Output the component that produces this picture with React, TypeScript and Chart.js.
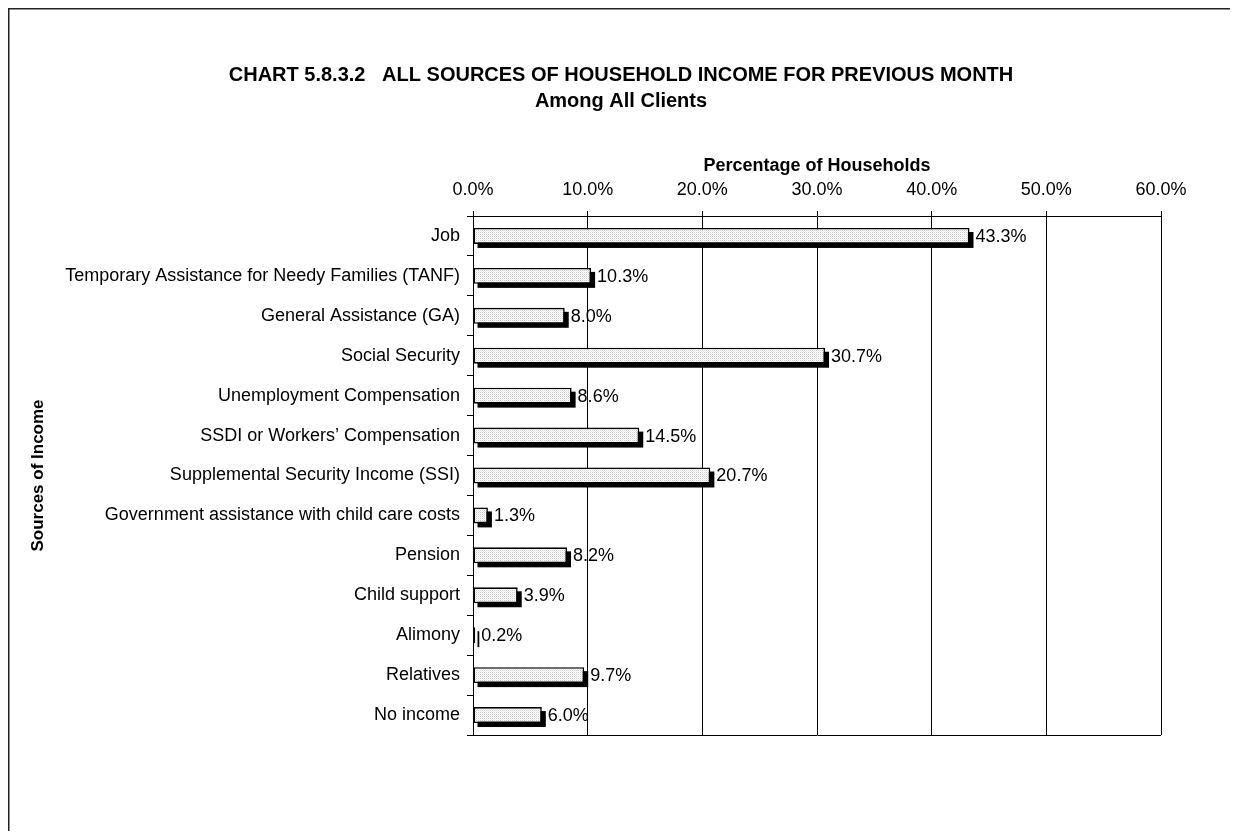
import React, { useEffect, useRef } from "react";
import { Chart, registerables } from "chart.js";

Chart.register(...registerables);

const categories = [
  "Job",
  "Temporary Assistance for Needy Families (TANF)",
  "General Assistance (GA)",
  "Social Security",
  "Unemployment Compensation",
  "SSDI or Workers\u2019 Compensation",
  "Supplemental Security Income (SSI)",
  "Government assistance with child care costs",
  "Pension",
  "Child support",
  "Alimony",
  "Relatives",
  "No income",
];
const percentages = [43.3, 10.3, 8.0, 30.7, 8.6, 14.5, 20.7, 1.3, 8.2, 3.9, 0.2, 9.7, 6.0];
const xMin = 0;
const xMax = 60;
const xStep = 10;
const titleLines = [
  "CHART 5.8.3.2   ALL SOURCES OF HOUSEHOLD INCOME FOR PREVIOUS MONTH",
  "Among All Clients",
];
const xAxisTitle = "Percentage of Households";
const yAxisTitle = "Sources of Income";

const FONT = "'Liberation Sans', Arial, sans-serif";
const W = 1238;
const H = 839;
const PAD_TOP = 155;
const PLOT_TOP = 216;
const PLOT_BOTTOM = 735;
const PLOT_LEFT = 473;
const PAD_LEFT = 24;

function makePattern(): CanvasPattern | string {
  const c = document.createElement("canvas");
  c.width = 2;
  c.height = 2;
  const g = c.getContext("2d");
  if (!g) return "#e6e6e6";
  g.fillStyle = "#ffffff";
  g.fillRect(0, 0, 2, 2);
  g.fillStyle = "#cdcdcd";
  g.fillRect(0, 0, 1, 1);
  g.fillStyle = "#ebebeb";
  g.fillRect(1, 1, 1, 1);
  const p = g.createPattern(c, "repeat");
  return p || "#e6e6e6";
}

const framePlugin = {
  id: "frame",
  beforeDraw(chart: any) {
    const ctx = chart.ctx;
    ctx.save();
    ctx.strokeStyle = "#222";
    ctx.lineWidth = 1.5;
    ctx.beginPath();
    ctx.moveTo(8.75, H);
    ctx.lineTo(8.75, 8.75);
    ctx.lineTo(W, 8.75);
    ctx.stroke();
    ctx.restore();
  },
};

const titlePlugin = {
  id: "customTitle",
  afterDraw(chart: any) {
    const ctx = chart.ctx;
    ctx.save();
    ctx.fillStyle = "#000";
    ctx.font = `bold 20px ${FONT}`;
    ctx.textAlign = "center";
    ctx.textBaseline = "middle";
    ctx.fillText(titleLines[0], 621, 75);
    ctx.fillText(titleLines[1], 621, 101);
    ctx.restore();
  },
};

const shadowPlugin = {
  id: "barShadow",
  beforeDatasetsDraw(chart: any) {
    const ctx = chart.ctx;
    const meta = chart.getDatasetMeta(0);
    ctx.save();
    ctx.fillStyle = "#000";
    meta.data.forEach((bar: any) => {
      const p = bar.getProps(["x", "y", "base", "height"], true);
      const left = Math.min(p.base, p.x);
      const w = Math.abs(p.x - p.base);
      const top = p.y - p.height / 2;
      ctx.fillRect(left + 4, top + 4, w, p.height);
    });
    ctx.restore();
  },
};

const labelPlugin = {
  id: "barLabels",
  afterDatasetsDraw(chart: any) {
    const ctx = chart.ctx;
    const meta = chart.getDatasetMeta(0);
    ctx.save();
    ctx.fillStyle = "#000";
    ctx.font = `18px ${FONT}`;
    ctx.textAlign = "left";
    ctx.textBaseline = "middle";
    meta.data.forEach((bar: any, i: number) => {
      const v = chart.data.datasets[0].data[i] as number;
      ctx.fillText(`${v.toFixed(1)}%`, bar.x + 6, bar.y + 1);
    });
    ctx.restore();
  },
};

export default function App() {
  const ref = useRef<HTMLCanvasElement | null>(null);

  useEffect(() => {
    const canvas = ref.current;
    if (!canvas) return;
    const pattern = makePattern();
    const chart = new Chart(canvas, {
      type: "bar",
      data: {
        labels: categories,
        datasets: [
          {
            data: percentages,
            backgroundColor: pattern as any,
            borderColor: "#000",
            borderWidth: 1.6,
            borderSkipped: false,
            categoryPercentage: 1,
            barPercentage: 0.4,
          },
        ],
      },
      options: {
        indexAxis: "y",
        responsive: false,
        animation: false,
        devicePixelRatio: 1,
        layout: { padding: { left: PAD_LEFT, right: 77, top: PAD_TOP, bottom: H - PLOT_BOTTOM } },
        plugins: {
          legend: { display: false },
          tooltip: { enabled: false },
          title: { display: false },
        },
        scales: {
          x: {
            position: "top",
            min: xMin,
            max: xMax,
            ticks: {
              stepSize: xStep,
              color: "#000",
              font: { family: FONT, size: 18 },
              padding: 10,
              maxRotation: 0,
              callback: (v: any) => `${Number(v).toFixed(1)}%`,
            },
            grid: { color: "#000", lineWidth: 1, tickLength: 5, tickColor: "#000" },
            border: { display: true, color: "#000", width: 1 },
            title: {
              display: true,
              text: xAxisTitle,
              color: "#000",
              font: { family: FONT, size: 18, weight: "bold" },
              padding: { top: 0, bottom: 0 },
            },
            afterFit: (s: any) => {
              s.height = PLOT_TOP - PAD_TOP;
            },
          },
          y: {
            ticks: {
              color: "#000",
              font: { family: FONT, size: 18 },
              padding: 7,
              autoSkip: false,
            },
            grid: {
              offset: true,
              tickLength: 6,
              tickColor: "#000",
              color: (ctx: any) => (ctx.type === "scale" ? "#000" : "rgba(0,0,0,0)"),
              lineWidth: 1,
            },
            border: { display: true, color: "#000", width: 1 },
            title: {
              display: true,
              text: yAxisTitle,
              color: "#000",
              font: { family: FONT, size: 17, weight: "bold" },
              padding: { top: 4, bottom: 0 },
            },
            afterFit: (s: any) => {
              s.width = PLOT_LEFT - PAD_LEFT;
            },
          },
        },
      },
      plugins: [framePlugin, shadowPlugin, labelPlugin, titlePlugin],
    });
    return () => chart.destroy();
  }, []);

  return (
    <div style={{ position: "relative", width: W - 16, height: H - 16 }}>
      <canvas
        ref={ref}
        width={W}
        height={H}
        style={{ position: "absolute", left: -8, top: -8, width: W, height: H, display: "block" }}
      />
    </div>
  );
}
